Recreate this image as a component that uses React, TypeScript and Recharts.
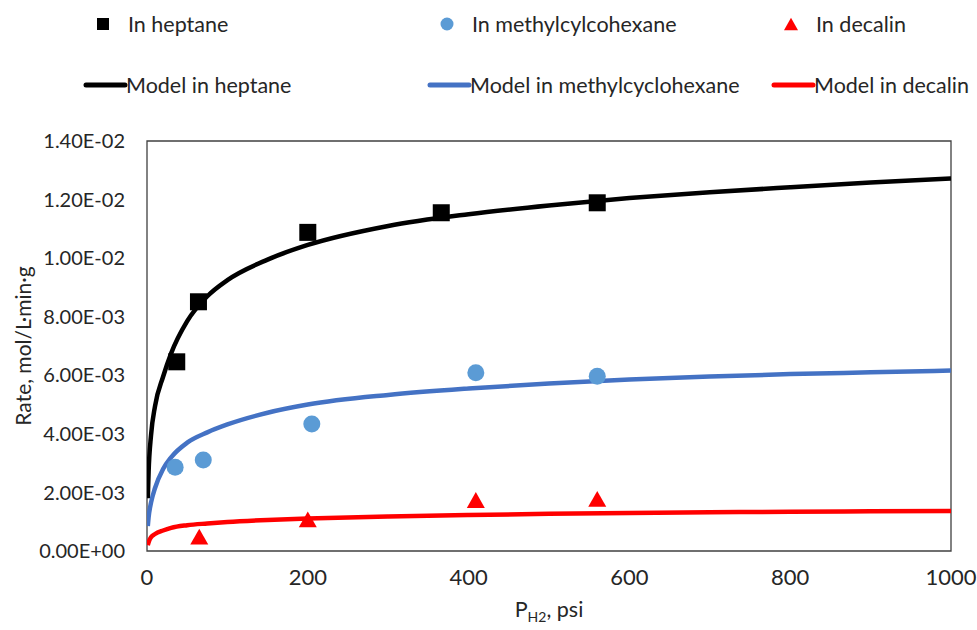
import { ComposedChart, Line, Scatter, XAxis, YAxis, ReferenceArea } from 'recharts';

// measured rates (mol/L·min·g) vs hydrogen pressure (psi)
const heptaneP = [37, 64, 200, 366, 560];
const heptaneRate = [6.46e-3, 8.51e-3, 10.88e-3, 11.55e-3, 11.89e-3];

const mchP = [35, 70, 205, 409, 560];
const mchRate = [2.86e-3, 3.11e-3, 4.34e-3, 6.09e-3, 5.97e-3];

const decalinP = [65, 200, 409, 560];
const decalinRate = [0.49e-3, 1.08e-3, 1.74e-3, 1.78e-3];

// model curves, sampled on a shared pressure grid
const modelP = [1, 2, 5, 10, 20, 30, 50, 75, 100, 150, 200, 300, 400, 500, 600, 700, 800, 900, 1000];
const heptaneModel = [
    1.8e-3, 2.7e-3, 3.95e-3, 4.95e-3, 5.95e-3, 6.75e-3, 7.85e-3, 8.7e-3, 9.25e-3, 9.95e-3,
    10.45e-3, 11.1e-3, 11.5e-3, 11.8e-3, 12.05e-3, 12.25e-3, 12.42e-3, 12.58e-3, 12.72e-3,
];
const mchModel = [
    0.85e-3, 1.15e-3, 1.65e-3, 2.15e-3, 2.8e-3, 3.2e-3, 3.7e-3, 4.05e-3, 4.32e-3, 4.72e-3,
    5.0e-3, 5.33e-3, 5.55e-3, 5.72e-3, 5.86e-3, 5.96e-3, 6.04e-3, 6.1e-3, 6.16e-3,
];
const decalinModel = [
    0.2e-3, 0.3e-3, 0.47e-3, 0.58e-3, 0.7e-3, 0.79e-3, 0.88e-3, 0.94e-3, 0.99e-3, 1.06e-3,
    1.11e-3, 1.18e-3, 1.23e-3, 1.27e-3, 1.3e-3, 1.32e-3, 1.34e-3, 1.355e-3, 1.37e-3,
];

const xTicks = [0, 200, 400, 600, 800, 1000];
const yTicks = [0, 0.002, 0.004, 0.006, 0.008, 0.01, 0.012, 0.014];

const toRows = (p, rate) => p.map((v, i) => ({ p: v, rate: rate[i] }));

const FONT = 'Lato, "Noto Sans", sans-serif';
const TEXT = '#262626';

const BLACK = '#000000';
const BLUE_DOT = '#5B9BD5';
const BLUE_LINE = '#4472C4';
const RED = '#FF0000';

// 1.40E-02 style labels
const sci = (v) => {
    const [m, e] = v.toExponential(2).split('e');
    return `${m}E${e[0]}${e.slice(1).padStart(2, '0')}`;
};

const Square = ({ cx, cy, side, fill }) => (
    <rect x={cx - side / 2} y={cy - side / 2} width={side} height={side} fill={fill} />
);
const Dot = ({ cx, cy, side, fill }) => <circle cx={cx} cy={cy} r={side / 2} fill={fill} />;
const Tri = ({ cx, cy, side, fill }) => {
    const h = side * 0.88;
    return (
        <polygon
            points={`${cx},${cy - h / 2} ${cx + side / 2},${cy + h / 2} ${cx - side / 2},${cy + h / 2}`}
            fill={fill}
        />
    );
};

const markerItems = [
    { name: 'In heptane', color: BLACK, Shape: Square, side: 12 },
    { name: 'In methylcylcohexane', color: BLUE_DOT, Shape: Dot, side: 13 },
    { name: 'In decalin', color: RED, Shape: Tri, side: 14 },
];
const lineItems = [
    { name: 'Model in heptane', color: BLACK },
    { name: 'Model in methylcyclohexane', color: BLUE_LINE },
    { name: 'Model in decalin', color: RED },
];

const LegendBlock = () => {
    const cols = [128, 472, 816];
    return (
        <svg width={977} height={120} style={{ position: 'absolute', left: 0, top: 0 }}>
            {markerItems.map((it, i) => (
                <g key={it.name}>
                    <it.Shape cx={cols[i] - 25} cy={24} side={it.side} fill={it.color} />
                    <text x={cols[i]} y={24} dominantBaseline="central" fontFamily={FONT} fontSize={21.5} fill={TEXT}>
                        {it.name}
                    </text>
                </g>
            ))}
            {lineItems.map((it, i) => (
                <g key={it.name}>
                    <line
                        x1={cols[i] - 42}
                        x2={cols[i] - 3}
                        y1={85}
                        y2={85}
                        stroke={it.color}
                        strokeWidth={5}
                        strokeLinecap="round"
                    />
                    <text x={cols[i] - 2} y={85} dominantBaseline="central" fontFamily={FONT} fontSize={21.5} fill={TEXT}>
                        {it.name}
                    </text>
                </g>
            ))}
        </svg>
    );
};

const YLabel = ({ viewBox }) => {
    const cx = viewBox.x + 22;
    const cy = viewBox.y + viewBox.height / 2;
    return (
        <text
            x={cx}
            y={cy}
            transform={`rotate(-90 ${cx} ${cy})`}
            textAnchor="middle"
            dominantBaseline="central"
            fontFamily={FONT}
            fontSize={21}
            fill={TEXT}
        >
            Rate, mol/L·min·g
        </text>
    );
};

const XLabel = ({ viewBox }) => {
    const cx = viewBox.x + viewBox.width / 2;
    return (
        <text x={cx} y={617} textAnchor="middle" fontFamily={FONT} fontSize={21.5} fill={TEXT}>
            <tspan>P</tspan>
            <tspan fontSize={14} dy={5}>H2</tspan>
            <tspan dy={-5}>, psi</tspan>
        </text>
    );
};

const yTickStyle = { fontFamily: FONT, fontSize: 20, fill: TEXT };
const xTickStyle = { fontFamily: FONT, fontSize: 22, fill: TEXT };

export default function App() {
    return (
        <div style={{ position: 'absolute', left: 0, top: 0, width: 977, height: 630, background: '#fff' }}>
            <LegendBlock />
            <ComposedChart width={977} height={630} margin={{ top: 141, right: 26, bottom: 0, left: 0 }}>
                <XAxis
                    dataKey="p"
                    type="number"
                    domain={[0, 1000]}
                    ticks={xTicks}
                    allowDataOverflow
                    axisLine={false}
                    tickLine={false}
                    tickSize={16}
                    tickMargin={2}
                    tick={xTickStyle}
                    height={79}
                    label={{ content: XLabel }}
                />
                <YAxis
                    type="number"
                    domain={[0, 0.014]}
                    ticks={yTicks}
                    tickFormatter={sci}
                    axisLine={false}
                    tickLine={false}
                    tickSize={20}
                    tickMargin={2}
                    tick={yTickStyle}
                    width={147}
                    label={{ content: YLabel }}
                />
                <ReferenceArea x1={0} x2={1000} y1={0} y2={0.014} fill="none" stroke="#404040" strokeWidth={1.3} />

                <Line name="Model in heptane" data={toRows(modelP, heptaneModel)} dataKey="rate" type="monotone" stroke={BLACK} strokeWidth={4.5} dot={false} isAnimationActive={false} />
                <Line name="Model in methylcyclohexane" data={toRows(modelP, mchModel)} dataKey="rate" type="monotone" stroke={BLUE_LINE} strokeWidth={4.5} dot={false} isAnimationActive={false} />
                <Line name="Model in decalin" data={toRows(modelP, decalinModel)} dataKey="rate" type="monotone" stroke={RED} strokeWidth={4.5} dot={false} isAnimationActive={false} />

                <Scatter
                    name="In heptane"
                    data={toRows(heptaneP, heptaneRate)}
                    dataKey="rate"
                    fill={BLACK}
                    shape={(p) => <Square cx={p.cx} cy={p.cy} side={17} fill={BLACK} />}
                    isAnimationActive={false}
                />
                <Scatter
                    name="In methylcylcohexane"
                    data={toRows(mchP, mchRate)}
                    dataKey="rate"
                    fill={BLUE_DOT}
                    shape={(p) => <Dot cx={p.cx} cy={p.cy} side={17} fill={BLUE_DOT} />}
                    isAnimationActive={false}
                />
                <Scatter
                    name="In decalin"
                    data={toRows(decalinP, decalinRate)}
                    dataKey="rate"
                    fill={RED}
                    shape={(p) => <Tri cx={p.cx} cy={p.cy} side={18} fill={RED} />}
                    isAnimationActive={false}
                />
            </ComposedChart>
        </div>
    );
}
